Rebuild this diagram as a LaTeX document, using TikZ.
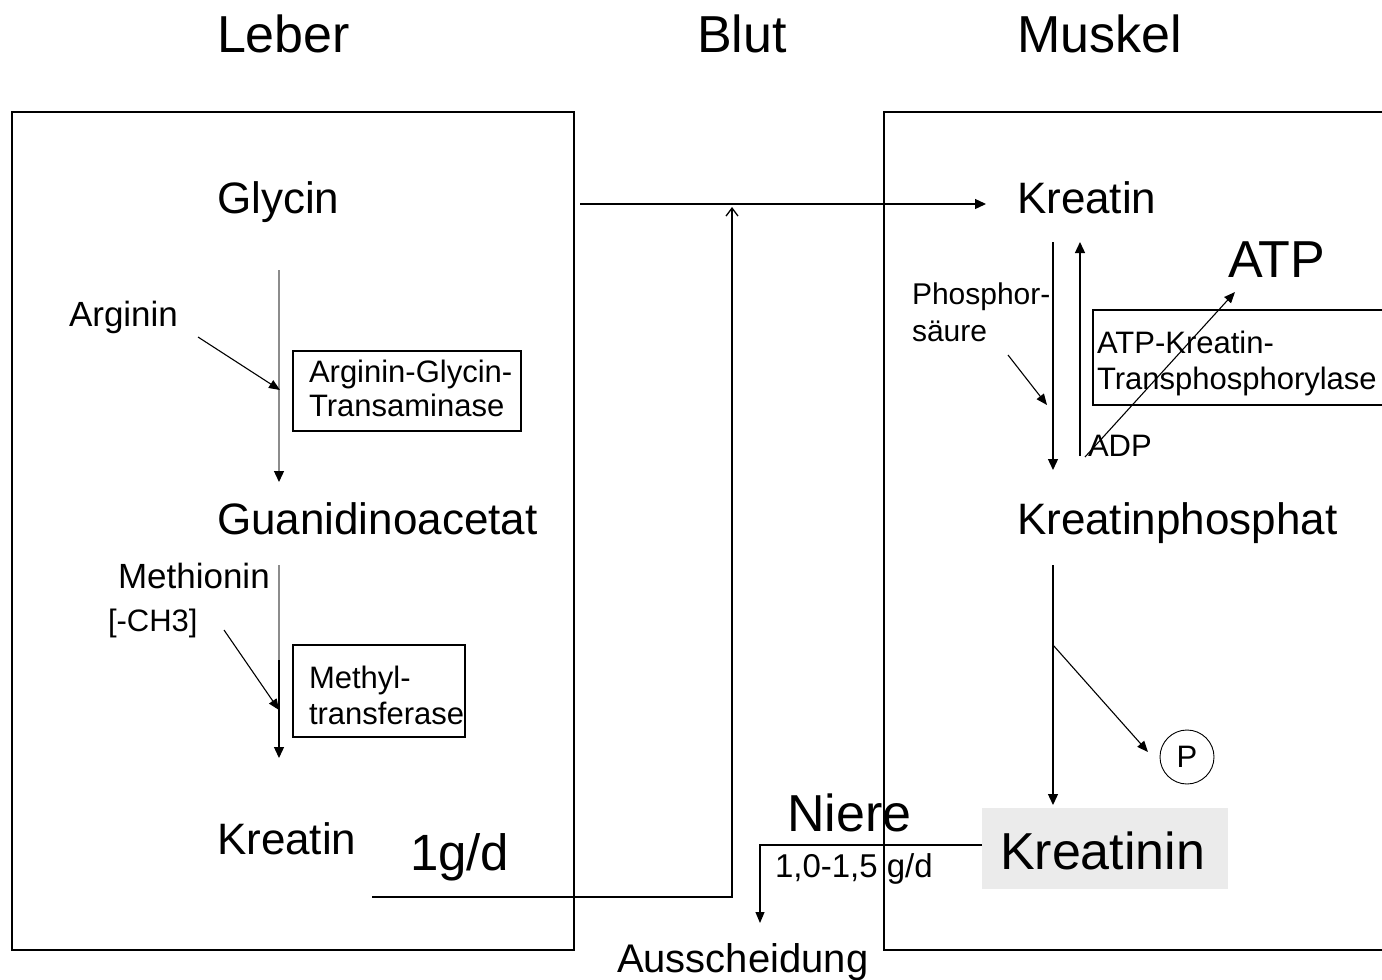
\documentclass[tikz,border=0pt]{standalone}
\usepackage{fontspec}
\setmainfont{Liberation Sans}
\usetikzlibrary{arrows.meta}
\newcommand{\fs}[1]{\fontsize{#1}{#1}\selectfont}
\begin{document}
\begin{tikzpicture}[x=1pt,y=-1pt,
  lbl/.style={anchor=base west,inner sep=0pt,outer sep=0pt},
  frame/.style={draw=black,line width=1.5pt},
  enz/.style={draw=black,line width=1.3pt},
  flow/.style={line width=1.3pt,-{Triangle[width=10pt,length=11pt]}},
  thin/.style={line width=1.1pt,-{Triangle[width=9pt,length=11pt]}}]
\clip (0,0) rectangle (1382,980);
\fill[white] (0,0) rectangle (1382,980);
% titles
\node[lbl] (leber) at (217,52) {\fs{52}Leber};
\node[lbl] (blut) at (697,52) {\fs{52}Blut};
\node[lbl] (muskel) at (1017,52) {\fs{52}Muskel};
% Kreatinin background
\fill[black!8] (982,808) rectangle (1228,889);
% left side
\node[lbl] (glycin) at (217,213) {\fs{44}Glycin};
\node[lbl] (arginin) at (69,326) {\fs{35}Arginin};
\node[lbl] (guan) at (217,534) {\fs{44}Guanidinoacetat};
\node[lbl] (methionin) at (118,588) {\fs{35}Methionin};
\node[lbl] (ch3) at (108,631) {\fs{31}[-CH3]};
\node[lbl] (kreatinL) at (217,854) {\fs{44}Kreatin};
\node[lbl] (rate1) at (410,870) {\fs{51}1g/d};
\draw[enz] (293,351) rectangle (521,431);
\node[lbl] (agt1) at (309,382) {\fs{31}Arginin-Glycin-};
\node[lbl] (agt2) at (309,416) {\fs{31}Transaminase};
\draw[enz] (293,645) rectangle (465,737);
\node[lbl] (mt1) at (309,688) {\fs{31}Methyl-};
\node[lbl] (mt2) at (309,724) {\fs{31}transferase};
% right side
\node[lbl] (kreatinR) at (1017,213) {\fs{44}Kreatin};
\node[lbl] (atp) at (1228,277) {\fs{52}ATP};
\node[lbl] (ps1) at (912,304) {\fs{30}Phosphor-};
\node[lbl] (ps2) at (912,341) {\fs{30}säure};
\draw[enz] (1093,310) rectangle (1400,405);
\node[lbl] (akt1) at (1097,353) {\fs{31}ATP-Kreatin-};
\node[lbl] (akt2) at (1097,389) {\fs{31}Transphosphorylase};
\node[lbl] (adp) at (1088,456) {\fs{31}ADP};
\node[lbl] (kp) at (1017,534) {\fs{44}Kreatinphosphat};
\node[draw,circle,line width=0.9pt,minimum size=54pt,inner sep=0pt] (p) at (1187,757) {\fs{31}P};
\node[lbl] (kreatinin) at (1000,869) {\fs{52}Kreatinin};
\node[lbl] (niere) at (787,831) {\fs{52}Niere};
\node[lbl] (rate2) at (775,877) {\fs{33}1,0-1,5 g/d};
\node[lbl] (aus) at (617,972) {\fs{40}Ausscheidung};
% frames
\draw[frame] (12,112) rectangle (574,950);
\draw[frame] (884,112) rectangle (1400,950);
% coordinates
\coordinate (g0) at (279,270); \coordinate (g1) at (279,482);
\coordinate (a0) at (198,337); \coordinate (a1) at (280,390);
\coordinate (m0) at (279,565); \coordinate (mm) at (279,660); \coordinate (m1) at (279,758);
\coordinate (c0) at (224,630); \coordinate (c1) at (279,710);
\coordinate (b0) at (372,897); \coordinate (b1) at (732,897); \coordinate (b2) at (732,207);
\coordinate (h0) at (580,204); \coordinate (h1) at (986,204);
\coordinate (d0) at (1053,242); \coordinate (d1) at (1053,470);
\coordinate (u0) at (1080,456); \coordinate (u1) at (1080,242);
\coordinate (s0) at (1008,355); \coordinate (s1) at (1047,405);
\coordinate (t0) at (1085,457); \coordinate (t1) at (1235,292);
\coordinate (k0) at (1053,565); \coordinate (k1) at (1053,805);
\coordinate (q0) at (1053,645); \coordinate (q1) at (1148,752);
\coordinate (n0) at (982,845); \coordinate (n1) at (760,845); \coordinate (n2) at (760,923);
% connectors
\draw[line width=1.3pt,draw=black!45,-{Triangle[width=10pt,length=11pt,color=black]}] (g0) -- (g1);
\draw[thin] (a0) -- (a1);
\draw[line width=1.3pt,black!45] (m0) -- (mm);
\draw[flow] (mm) -- (m1);
\draw[thin] (c0) -- (c1);
\draw[line width=1.3pt,-{Straight Barb[length=8pt,width=12pt]}] (b0) -- (b1) -- (b2);
\draw[flow] (h0) -- (h1);
\draw[flow] (d0) -- (d1);
\draw[flow] (u0) -- (u1);
\draw[thin] (s0) -- (s1);
\draw[thin] (t0) -- (t1);
\draw[flow] (k0) -- (k1);
\draw[thin] (q0) -- (q1);
\draw[thin] (n0) -- (n1) -- (n2);
\end{tikzpicture}
\end{document}
